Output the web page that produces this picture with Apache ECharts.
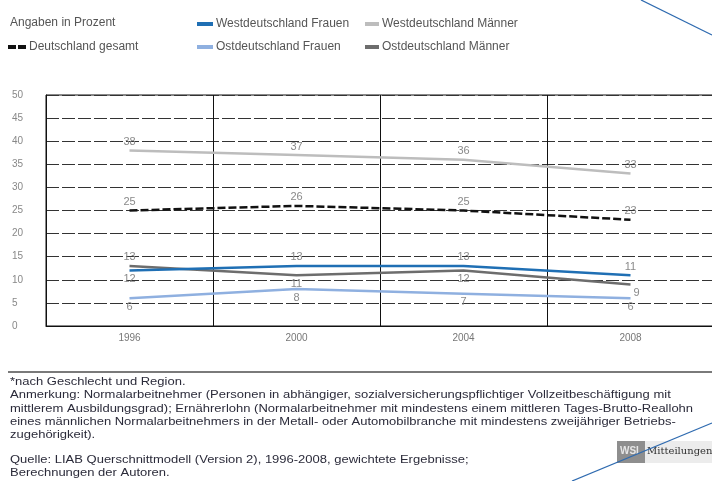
<!DOCTYPE html>
<html><head><meta charset="utf-8">
<script src="https://cdn.jsdelivr.net/npm/echarts@6/dist/echarts.min.js"></script>
<style>html,body{margin:0;padding:0;background:#fff;overflow:hidden;width:712px;height:481px}#c{width:718px;height:481px}</style>
</head><body><div id="c"></div>
<script>
var years = ['1996','2000','2004','2008'];
var westMaenner = [38, 37, 36, 33];
var gesamt = [25, 26, 25, 23];
var westFrauen = [12, 13, 13, 11];
var ostMaenner = [13, 11, 12, 9];
var ostFrauen = [6, 8, 7, 6];
var yTicks = [0, 5, 10, 15, 20, 25, 30, 35, 40, 45, 50];
var notes = [
  '*nach Geschlecht und Region.',
  'Anmerkung: Normalarbeitnehmer (Personen in abhängiger, sozialversicherungspflichtiger Vollzeitbeschäftigung mit',
  'mittlerem Ausbildungsgrad); Ernährerlohn (Normalarbeitnehmer mit mindestens einem mittleren Tages-Brutto-Reallohn',
  'eines männlichen Normalarbeitnehmers in der Metall- oder Automobilbranche mit mindestens zweijähriger Betriebs-',
  'zugehörigkeit).'
];
var source = [
  'Quelle: LIAB Querschnittmodell (Version 2), 1996-2008, gewichtete Ergebnisse;',
  'Berechnungen der Autoren.'
];

var FONT = "'Liberation Sans', Arial, sans-serif";
var chart = echarts.init(document.getElementById('c'));

function withPos(values, positions, offsets) {
  return values.map(function (v, i) {
    var l = { position: positions[i] };
    if (offsets && offsets[i]) l.offset = offsets[i];
    return { value: v, label: l };
  });
}
var lblBase = { show: true, color: '#8a8a8a', fontSize: 11, fontFamily: FONT, distance: 3 };

function legend(name, left, top, icon, w) {
  return {
    data: [{ name: name, icon: icon }],
    left: left, top: top, padding: 0, itemWidth: w || 16, itemHeight: 4,
    textStyle: { color: '#555', fontSize: 12, fontFamily: FONT, padding: [0, 0, 0, -2] },
    selectedMode: false
  };
}

var graphics = [
  { type: 'text', left: 10, top: 17, style: { text: 'Angaben in Prozent', fill: '#555', font: '12px ' + FONT } },
  { type: 'rect', shape: { x: 8, y: 371, width: 704, height: 2 }, style: { fill: '#7a7a7a' } },
  { type: 'line', shape: { x1: 641, y1: 0, x2: 712, y2: 35 }, style: { stroke: '#2f6bb0', lineWidth: 1.3 } },
  { type: 'rect', shape: { x: 617, y: 441, width: 28, height: 22 }, style: { fill: '#8e8e8e' } },
  { type: 'rect', shape: { x: 645, y: 441, width: 67, height: 22 }, style: { fill: '#ececec' } },
  { type: 'text', x: 620, y: 446, style: { text: 'WSI', fill: '#e6e6e6', font: 'bold 10px ' + FONT } },
  { type: 'text', x: 647, y: 446, style: { text: 'Mitteilungen', fill: '#333', font: '10px "DejaVu Serif", serif' } },
  { type: 'line', shape: { x1: 572, y1: 481, x2: 712, y2: 423 }, style: { stroke: '#2f6bb0', lineWidth: 1.3 } }
];
var noteY = [382, 395.3, 408.6, 422, 435.3];
notes.forEach(function (t, i) {
  graphics.push({ type: 'text', x: 10, y: noteY[i], scaleX: 1.15,
    style: { text: t, fill: '#2b2b3a', font: '11.3px ' + FONT, verticalAlign: 'middle' } });
});
var srcY = [460, 473.3];
source.forEach(function (t, i) {
  graphics.push({ type: 'text', x: 10, y: srcY[i], scaleX: 1.15,
    style: { text: t, fill: '#2b2b3a', font: '11.3px ' + FONT, verticalAlign: 'middle' } });
});

function lineSeries(name, data, color, extra, lbl) {
  return Object.assign({
    name: name, type: 'line', data: data, color: color,
    symbol: 'circle', symbolSize: 0, showSymbol: true,
    lineStyle: { width: 2.5, color: color },
    label: Object.assign({}, lblBase, lbl || {})
  }, extra || {});
}

chart.setOption({
  animation: false,
  textStyle: { fontFamily: FONT },
  grid: { left: 46, right: 4, top: 95, bottom: 155, show: true, borderColor: '#111', borderWidth: 1 },
  legend: [
    legend('Westdeutschland Frauen', 197, 18, 'rect'),
    legend('Westdeutschland Männer', 365, 18, 'rect', 14),
    legend('Deutschland gesamt', 8, 41, 'path://M0,0h8v4h-8z M10,0h8v4h-8z', 18),
    legend('Ostdeutschland Frauen', 197, 41, 'rect'),
    legend('Ostdeutschland Männer', 365, 41, 'rect', 14)
  ],
  xAxis: {
    type: 'category', data: years, boundaryGap: true,
    axisLine: { lineStyle: { color: '#111', width: 1 } },
    axisTick: { show: false },
    axisLabel: { color: '#777', fontSize: 10, margin: 7 },
    splitLine: { show: true, lineStyle: { color: '#111', width: 1 } }
  },
  yAxis: {
    type: 'value', min: yTicks[0], max: yTicks[yTicks.length - 1], interval: 5,
    axisLine: { show: true, lineStyle: { color: '#111', width: 1 } },
    axisTick: { show: false },
    axisLabel: { color: '#888', fontSize: 10, align: 'left', margin: 34 },
    splitLine: { lineStyle: { color: '#333', width: 1.2, type: [13, 3] } }
  },
  graphic: graphics,
  series: [
    lineSeries('Westdeutschland Männer', westMaenner, '#bdbdbd', null, { position: 'top' }),
    lineSeries('Deutschland gesamt', gesamt, '#111', { lineStyle: { width: 2.5, color: '#111', type: [8, 3] } }, { position: 'top' }),
    lineSeries('Ostdeutschland Männer', withPos(ostMaenner, ['top', 'bottom', 'bottom', 'bottom'], [null, null, null, [6, 0]]), '#6d6d6d'),
    lineSeries('Westdeutschland Frauen', withPos(westFrauen, ['bottom', 'top', 'top', 'top']), '#1f6fb4'),
    lineSeries('Ostdeutschland Frauen', ostFrauen, '#8fb0e0', null, { position: 'bottom' })
  ]
});
</script></body></html>
